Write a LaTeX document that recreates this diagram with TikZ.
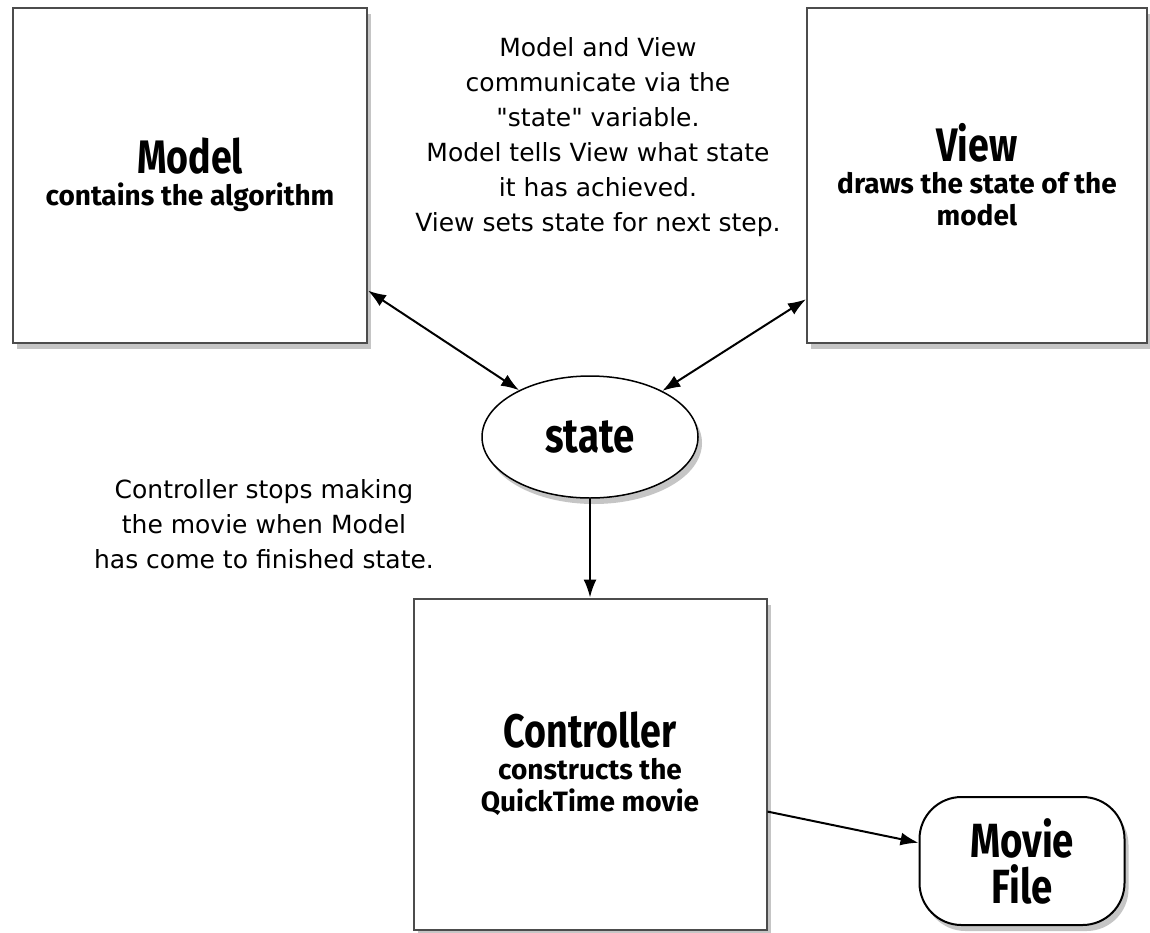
\documentclass[tikz,border=0pt]{standalone}
\usepackage{fontspec}
\setmainfont{Fira Sans}
\newfontfamily\chalk[FakeStretch=0.8]{Fira Sans}
\newfontfamily\comic{DejaVu Sans}
\usetikzlibrary{arrows.meta,shapes.geometric,shadows}

\newcommand{\ttl}[1]{{\chalk\fontsize{47}{50}\selectfont #1}}

\begin{document}
\begin{tikzpicture}[x=1pt,y=-1pt,>={Latex[length=18pt,width=13pt]},
  box/.style={rectangle,draw=black!70,line width=2pt,fill=white,align=center,
    font=\bfseries\fontsize{28}{32}\selectfont,
    drop shadow={shadow xshift=4pt,shadow yshift=-6pt,opacity=0.45}},
  note/.style={align=center,font=\comic\fontsize{25}{35}\selectfont},
  link/.style={line width=2pt}]
\useasboundingbox[fill=white] (0,0) rectangle (1150,932);

\node[box,minimum width=354pt,minimum height=335pt] (model) at (190,175) {\ttl{Model}\\contains the algorithm};
\node[box,minimum width=340pt,minimum height=335pt] (view) at (977,175) {\ttl{View}\\draws the state of the\\model};
\node[box,ellipse,line width=1.5pt,draw=black,minimum width=216pt,minimum height=122pt,
  font=\chalk\bfseries\fontsize{48}{50}\selectfont] (state) at (590,437) {state};
\node[box,minimum width=353pt,minimum height=331pt] (ctrl) at (590,764) {\ttl{Controller}\\constructs the\\QuickTime movie};
\node[box,rounded corners=42pt,draw=black,minimum width=205pt,minimum height=128pt,
  font=\chalk\bfseries\fontsize{48}{46}\selectfont] (movie) at (1022,861) {Movie\\File};

\node[note] (talk) at (598,137) {Model and View\\communicate via the\\"state" variable.\\Model tells View what state\\it has achieved.\\View sets state for next step.};
\node[note] (stop) at (264,524) {Controller stops making\\the movie when Model\\has come to finished state.};

\path[<->,link] (model.-33) edge (state);
\path[<->,link] (view.216) edge (state);
\path[->,link] (state) edge (ctrl);
\path[->,link] (ctrl.-15) edge (movie.170);
\end{tikzpicture}
\end{document}
